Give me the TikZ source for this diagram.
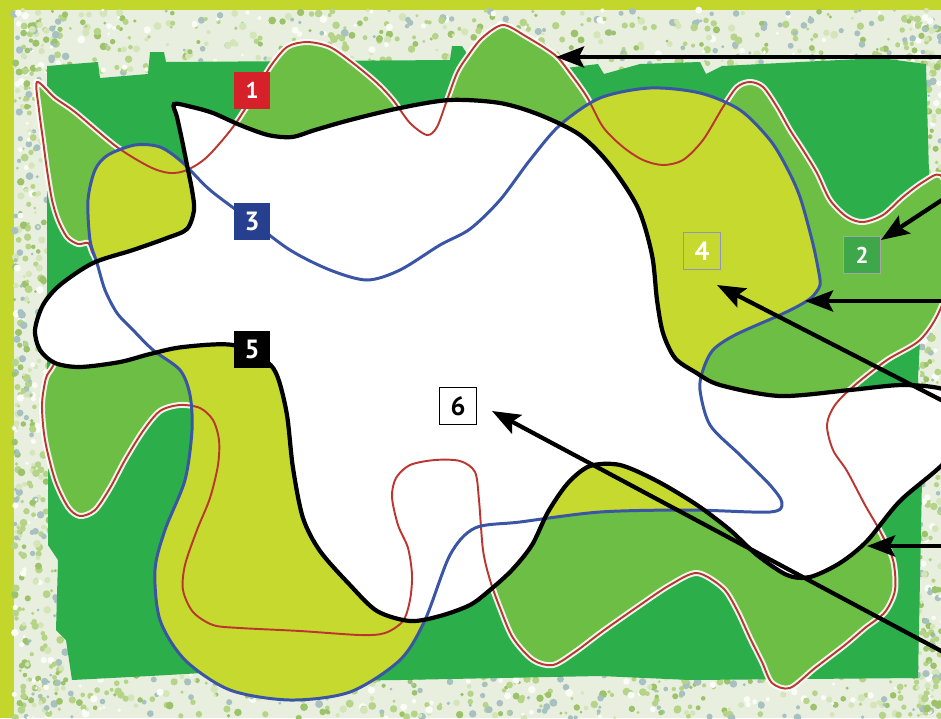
\documentclass[tikz,border=0pt]{standalone}
\usepackage{fontspec}
\setsansfont{PT Sans}
\usetikzlibrary{arrows.meta}

\definecolor{framegreen}{HTML}{C3D62C}
\definecolor{paper}{HTML}{E8EFDF}
\definecolor{darkzone}{HTML}{2CAE4A}
\definecolor{midzone}{HTML}{6DBE45}
\definecolor{yellowzone}{HTML}{C5D92E}
\definecolor{redline}{HTML}{BC3631}
\definecolor{blueline}{HTML}{3A55A5}
\definecolor{tagred}{HTML}{D6212B}
\definecolor{taggreen}{HTML}{3EA74A}
\definecolor{tagblue}{HTML}{263F8E}
\definecolor{sp1}{HTML}{B6D488}
\definecolor{sp2}{HTML}{9CC36A}
\definecolor{sp3}{HTML}{A7C1C0}
\definecolor{sp4}{HTML}{D4E5B9}
\definecolor{sp5}{HTML}{FAFCF6}

% zone outlines
\newcommand\zoneblack{plot[smooth cycle, tension=0.5] coordinates {
  (174,104) (192,107) (213,113) (240,125) (268,135) (292,137) (315,130) (350,120)
  (400,108) (450,100) (500,103) (540,115) (580,135) (610,165) (638,208) (652,255)
  (657,300) (663,333) (675,358) (695,372) (720,385) (780,396) (850,390) (905,385)
  (950,392) (968,425) (945,462) (900,501) (867,541) (840,563) (810,577) (787,575)
  (757,555) (730,530) (697,505) (657,481) (620,465) (590,466) (568,483) (548,512)
  (532,545) (512,570) (490,590) (470,605) (440,616) (410,621) (377,611) (350,585)
  (320,551) (303,518) (293,468) (287,415) (278,378) (267,362) (233,345) (183,347)
  (150,354) (120,362) (80,367) (55,363) (40,350) (35,330) (43,305) (60,285)
  (93,263) (133,250) (167,238) (187,229) (194,210) (192,190) (187,165) (182,140)
  (177,117)}}
\newcommand\zoneblue{plot[smooth cycle, tension=0.5] coordinates {
  (135,145) (160,147) (182,162) (210,190) (250,220) (290,250) (330,270) (367,280)
  (400,270) (440,245) (470,229) (500,200) (530,160) (560,125) (600,98) (650,88)
  (700,93) (740,110) (770,140) (787,168) (800,197) (812,240) (818,268) (820,285)
  (812,297) (800,305) (780,315) (735,335) (713,350) (703,370) (700,390) (710,425)
  (740,455) (770,485) (782,503) (770,512) (690,510) (600,512) (520,522) (475,528)
  (450,555) (425,620) (400,660) (350,692) (290,700) (230,690) (185,660) (160,620)
  (155,570) (165,530) (185,480) (192,430) (190,395) (180,370) (153,350) (133,330)
  (117,313) (105,290) (97,263) (90,240) (88,200) (95,170) (108,155)}}
\newcommand\zonered{plot[smooth cycle, tension=0.5] coordinates {
  (37,82) (55,98) (75,112) (117,147) (150,167) (170,173) (187,170) (207,157)
  (233,127) (257,90) (270,67) (287,47) (307,42) (330,47) (353,63) (377,83)
  (393,100) (410,123) (427,135) (437,127) (447,100) (457,73) (467,57) (482,38)
  (503,25) (527,37) (555,55) (570,73) (587,97) (603,127) (623,147) (643,160)
  (663,165) (683,160) (703,140) (723,107) (737,87) (750,82) (763,87) (777,107)
  (790,130) (803,150) (817,173) (830,200) (847,217) (863,222) (883,215) (903,197)
  (923,182) (940,175) (952,200) (955,260) (940,310) (920,340) (887,360) (855,385)
  (835,405) (827,425) (833,450) (847,471) (865,505) (880,531) (893,560) (895,590)
  (885,612) (865,628) (845,645) (815,668) (790,688) (772,683) (762,662) (750,638)
  (737,610) (723,588) (697,573) (670,585) (640,605) (603,631) (575,652) (553,665)
  (533,660) (513,638) (500,608) (490,580) (483,550) (479,500) (475,472) (460,461)
  (435,460) (410,465) (396,478) (392,497) (398,525) (408,548) (412,575) (410,600)
  (403,621) (385,633) (360,635) (300,631) (240,628) (213,625) (193,612) (183,590)
  (185,565) (197,530) (210,498) (218,465) (219,440) (213,420) (200,408) (180,405)
  (160,411) (143,431) (125,460) (110,488) (95,510) (80,516) (68,507) (55,480)
  (45,440) (42,405) (46,378) (53,366) (68,335) (85,300) (96,265) (92,252)
  (88,243) (78,244) (67,237) (58,220) (52,200) (47,170) (43,140) (39,110)}}

\begin{document}
\begin{tikzpicture}[x=0.02cm, y=-0.02cm,
  >={Stealth[length=16pt, width=12pt, inset=3pt]},
  zonetag/.style={minimum size=0.74cm, inner sep=0pt, text=white,
    font=\sffamily\bfseries\fontsize{15}{15}\selectfont},
  pointer/.style={->, line width=2.4pt}]
  \useasboundingbox (0,0) rectangle (941,718);
  \clip (0,0) rectangle (941,718);

  % frame and speckled border
  \fill[framegreen] (0,0) rectangle (941,718);
  \fill[paper] (14,10) rectangle (941,718);
  \pgfmathsetseed{11}
  \pgfmathdeclarerandomlist{specks}{{sp1}{sp2}{sp3}{sp4}{sp5}{sp1}}
  \foreach \xa/\xb/\ya/\yb in {14/941/10/74, 14/941/660/718, 14/66/10/718, 902/941/10/718}{
    \foreach \i in {1,...,520}{
      \pgfmathsetmacro\px{\xa+(\xb-\xa)*rnd}
      \pgfmathsetmacro\py{\ya+(\yb-\ya)*rnd}
      \pgfmathsetmacro\pr{1.5+2.5*rnd}
      \pgfmathrandomitem{\sp}{specks}
      \fill[\sp] (\px,\py) circle (\pr);
    }
  }

  % zones
  \fill[darkzone] (47,66) -- (98,62) -- (100,78) -- (148,74) -- (150,52) -- (164,52)
    -- (166,62) -- (450,60) -- (452,46) -- (462,46) -- (470,58) -- (560,58) -- (566,68)
    -- (598,64) -- (604,74) -- (640,64) -- (700,62) -- (706,74) -- (722,66) -- (800,62)
    -- (880,58) -- (926,64) -- (930,210) -- (922,300) -- (918,380) -- (922,480)
    -- (918,678) -- (690,680) -- (600,676) -- (400,680) -- (240,682) -- (220,672)
    -- (150,676) -- (72,680) -- (66,640) -- (56,630) -- (58,560) -- (48,545)
    -- (48,470) -- (56,455) -- (47,380) -- cycle;
  \fill[midzone] \zonered;
  \draw[white, line width=3.4pt, opacity=0.9] \zonered;
  \fill[yellowzone] \zoneblue;
  \fill[white] \zoneblack;
  \draw[redline, line width=1.1pt] \zonered;
  \begin{scope}
    \clip (28,252) rectangle (100,372);
    \fill[white] \zoneblack;
  \end{scope}
  \draw[blueline, line width=1.7pt] \zoneblue;
  \draw[black, line width=2.4pt] \zoneblack;

  % tags
  \node[zonetag, fill=tagred, font=\sffamily\bfseries\fontsize{13}{13}\selectfont] (one) at (252,90) {1};
  \node[zonetag, fill=taggreen, draw=gray!70, line width=0.6pt, font=\sffamily\bfseries\fontsize{13}{13}\selectfont] (two) at (862,255) {2};
  \node[zonetag, fill=tagblue] (three) at (252,221) {3};
  \node[zonetag, draw=blue!20!gray!70, line width=0.6pt] (four) at (702,251) {4};
  \node[zonetag, fill=black] (five) at (252,349) {5};
  \node[zonetag, fill=white, draw=black, line width=0.6pt, text=black] (six) at (458,406) {6};

  % pointers from the right edge
  \coordinate (in1) at (945,57);  \coordinate (at1) at (556,57);
  \coordinate (in2) at (945,198); \coordinate (at2) at (881,240);
  \coordinate (in3) at (945,301); \coordinate (at3) at (805,301);
  \coordinate (in4) at (945,402); \coordinate (at4) at (717,285);
  \coordinate (in5) at (945,546); \coordinate (at5) at (867,546);
  \coordinate (in6) at (945,653); \coordinate (at6) at (492,411);
  \foreach \k in {1,...,6}
    \draw[pointer] (in\k) -- (at\k);
\end{tikzpicture}
\end{document}
